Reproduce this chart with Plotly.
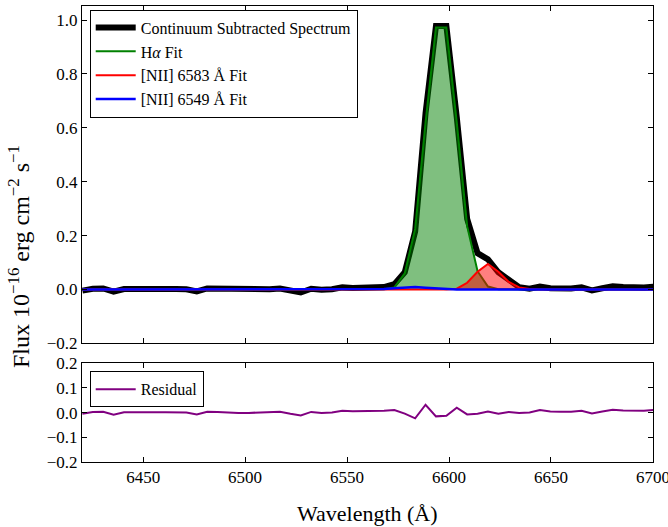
import plotly.graph_objects as go

wavelength = [6420.2, 6425.3, 6430.4, 6435.5, 6440.6, 6445.7, 6450.8, 6455.9, 6461.0, 6466.1,
              6471.2, 6476.3, 6481.4, 6486.5, 6491.6, 6496.7, 6501.8, 6506.9, 6512.0, 6517.1,
              6522.2, 6527.3, 6532.4, 6537.5, 6542.6, 6547.7, 6552.8, 6557.9, 6563.0, 6568.1,
              6573.2, 6578.3, 6583.4, 6588.5, 6593.6, 6598.7, 6603.8, 6608.9, 6614.0, 6619.1,
              6624.2, 6629.3, 6634.4, 6639.5, 6644.6, 6649.7, 6654.8, 6659.9, 6665.0, 6670.1,
              6675.2, 6680.3, 6685.4, 6690.5, 6695.6, 6700.7]

spectrum = [-0.004, 0.003, 0.004, -0.008, 0.002, 0.003, 0.003, 0.002, 0.002, 0.002,
            0.001, -0.007, 0.004, 0.003, 0.000, -0.001, -0.001, 0.000, 0.001, 0.004,
            -0.004, -0.011, 0.003, -0.001, 0.001, 0.008, 0.006, 0.006, 0.006, 0.009,
            0.020, 0.064, 0.215, 0.655, 0.978, 0.978, 0.640, 0.262, 0.135, 0.112,
            0.064, 0.033, 0.009, 0.003, 0.011, 0.005, 0.004, 0.004, 0.008, -0.003,
            0.005, 0.012, 0.009, 0.007, 0.008, 0.011]

halpha_fit = [0.0] * 29 + [0.001, 0.008, 0.060, 0.225, 0.620, 0.972, 0.972, 0.620, 0.235, 0.068,
                           0.011, 0.001] + [0.0] * 15

nii6583_fit = [0.0] * 36 + [0.003, 0.025, 0.066, 0.095, 0.066, 0.028, 0.008, 0.002] + [0.0] * 12

nii6549_fit = [0.0] * 29 + [0.002, 0.005, 0.008, 0.009, 0.007, 0.004, 0.001] + [0.0] * 20

residual = [-0.004, 0.003, 0.004, -0.008, 0.002, 0.003, 0.003, 0.002, 0.002, 0.002,
            0.001, -0.007, 0.004, 0.003, 0.000, -0.001, -0.001, 0.000, 0.001, 0.004,
            -0.004, -0.011, 0.003, -0.001, 0.001, 0.008, 0.006, 0.006, 0.006, 0.008,
            0.011, -0.004, -0.023, 0.032, -0.015, -0.013, 0.020, -0.007, -0.004, 0.005,
            -0.004, 0.003, -0.001, 0.001, 0.011, 0.005, 0.004, 0.004, 0.008, -0.003,
            0.005, 0.012, 0.009, 0.007, 0.008, 0.011]

x_ticks = [6450, 6500, 6550, 6600, 6650, 6700]
top_y_ticks = [-0.2, 0.0, 0.2, 0.4, 0.6, 0.8, 1.0]
bottom_y_ticks = [-0.2, -0.1, 0.0, 0.1, 0.2]

FONT = "Liberation Serif, DejaVu Serif, Times New Roman, serif"

fig = go.Figure()

fig.add_trace(go.Scatter(x=wavelength, y=spectrum, mode="lines",
                         line=dict(color="black", width=6),
                         name="Continuum Subtracted Spectrum", xaxis="x", yaxis="y"))
# filled areas (no legend entries)
fig.add_trace(go.Scatter(x=wavelength, y=halpha_fit, mode="none",
                         fill="tozeroy", fillcolor="rgba(0,128,0,0.5)",
                         showlegend=False, hoverinfo="skip", xaxis="x", yaxis="y"))
fig.add_trace(go.Scatter(x=wavelength, y=halpha_fit, mode="lines",
                         line=dict(color="rgb(0,128,0)", width=2),
                         name="H<i>α</i> Fit", xaxis="x", yaxis="y"))
fig.add_trace(go.Scatter(x=wavelength, y=nii6583_fit, mode="none",
                         fill="tozeroy", fillcolor="rgba(255,0,0,0.5)",
                         showlegend=False, hoverinfo="skip", xaxis="x", yaxis="y"))
fig.add_trace(go.Scatter(x=wavelength, y=nii6583_fit, mode="lines",
                         line=dict(color="rgb(255,0,0)", width=2),
                         name="[NII] 6583 Å Fit", xaxis="x", yaxis="y"))
fig.add_trace(go.Scatter(x=wavelength, y=nii6549_fit, mode="lines",
                         line=dict(color="rgb(0,0,255)", width=2.5),
                         name="[NII] 6549 Å Fit", xaxis="x", yaxis="y"))
fig.add_trace(go.Scatter(x=wavelength, y=residual, mode="lines",
                         line=dict(color="rgb(128,0,128)", width=2),
                         name="Residual", xaxis="x2", yaxis="y2", legend="legend2"))

axis_common = dict(showline=True, linecolor="black", linewidth=1, mirror="ticks",
                   ticks="inside", ticklen=5, tickcolor="black", tickwidth=1,
                   showgrid=False, zeroline=False, automargin=False,
                   ticklabeloverflow="allow",
                   tickfont=dict(family=FONT, size=17, color="black"))

fig.update_layout(
    width=668, height=527,
    margin=dict(l=82, r=15, t=6, b=65, autoexpand=False),
    paper_bgcolor="white", plot_bgcolor="white",
    font=dict(family=FONT, color="black"),
    xaxis=dict(domain=[0, 1], range=[6420, 6700.05], tickvals=x_ticks, showticklabels=False,
               anchor="y", matches="x2", **axis_common),
    yaxis=dict(domain=[0.26, 1], range=[-0.2, 1.052], tickvals=top_y_ticks,
               tickformat=".1f", anchor="x", **axis_common),
    xaxis2=dict(domain=[0, 1], range=[6420, 6700.05], tickvals=x_ticks, anchor="y2",
                **axis_common),
    yaxis2=dict(domain=[0, 0.2164], range=[-0.2, 0.2], tickvals=bottom_y_ticks,
                tickformat=".1f", anchor="x2", **axis_common),
    legend=dict(x=0.0135, y=0.992, xanchor="left", yanchor="top", itemwidth=40,
                bgcolor="white", bordercolor="black", borderwidth=1,
                font=dict(family=FONT, size=16, color="black"), tracegroupgap=0),
    legend2=dict(x=0.0135, y=0.199, xanchor="left", yanchor="top", itemwidth=40,
                 bgcolor="white", bordercolor="black", borderwidth=1,
                 font=dict(family=FONT, size=16, color="black")),
    showlegend=True,
    annotations=[
        dict(text="Flux 10<sup>−16</sup> erg cm<sup>−2</sup> s<sup>−1</sup>",
             xref="paper", yref="paper", x=-0.11, y=0.45, xanchor="center", yanchor="middle",
             textangle=-90, showarrow=False, font=dict(family=FONT, size=24, color="black")),
        dict(text="Wavelength (Å)", xref="paper", yref="paper", x=0.5, y=-0.112,
             xanchor="center", yanchor="middle", showarrow=False,
             font=dict(family=FONT, size=22, color="black")),
    ],
)

fig.write_html("out.html")
